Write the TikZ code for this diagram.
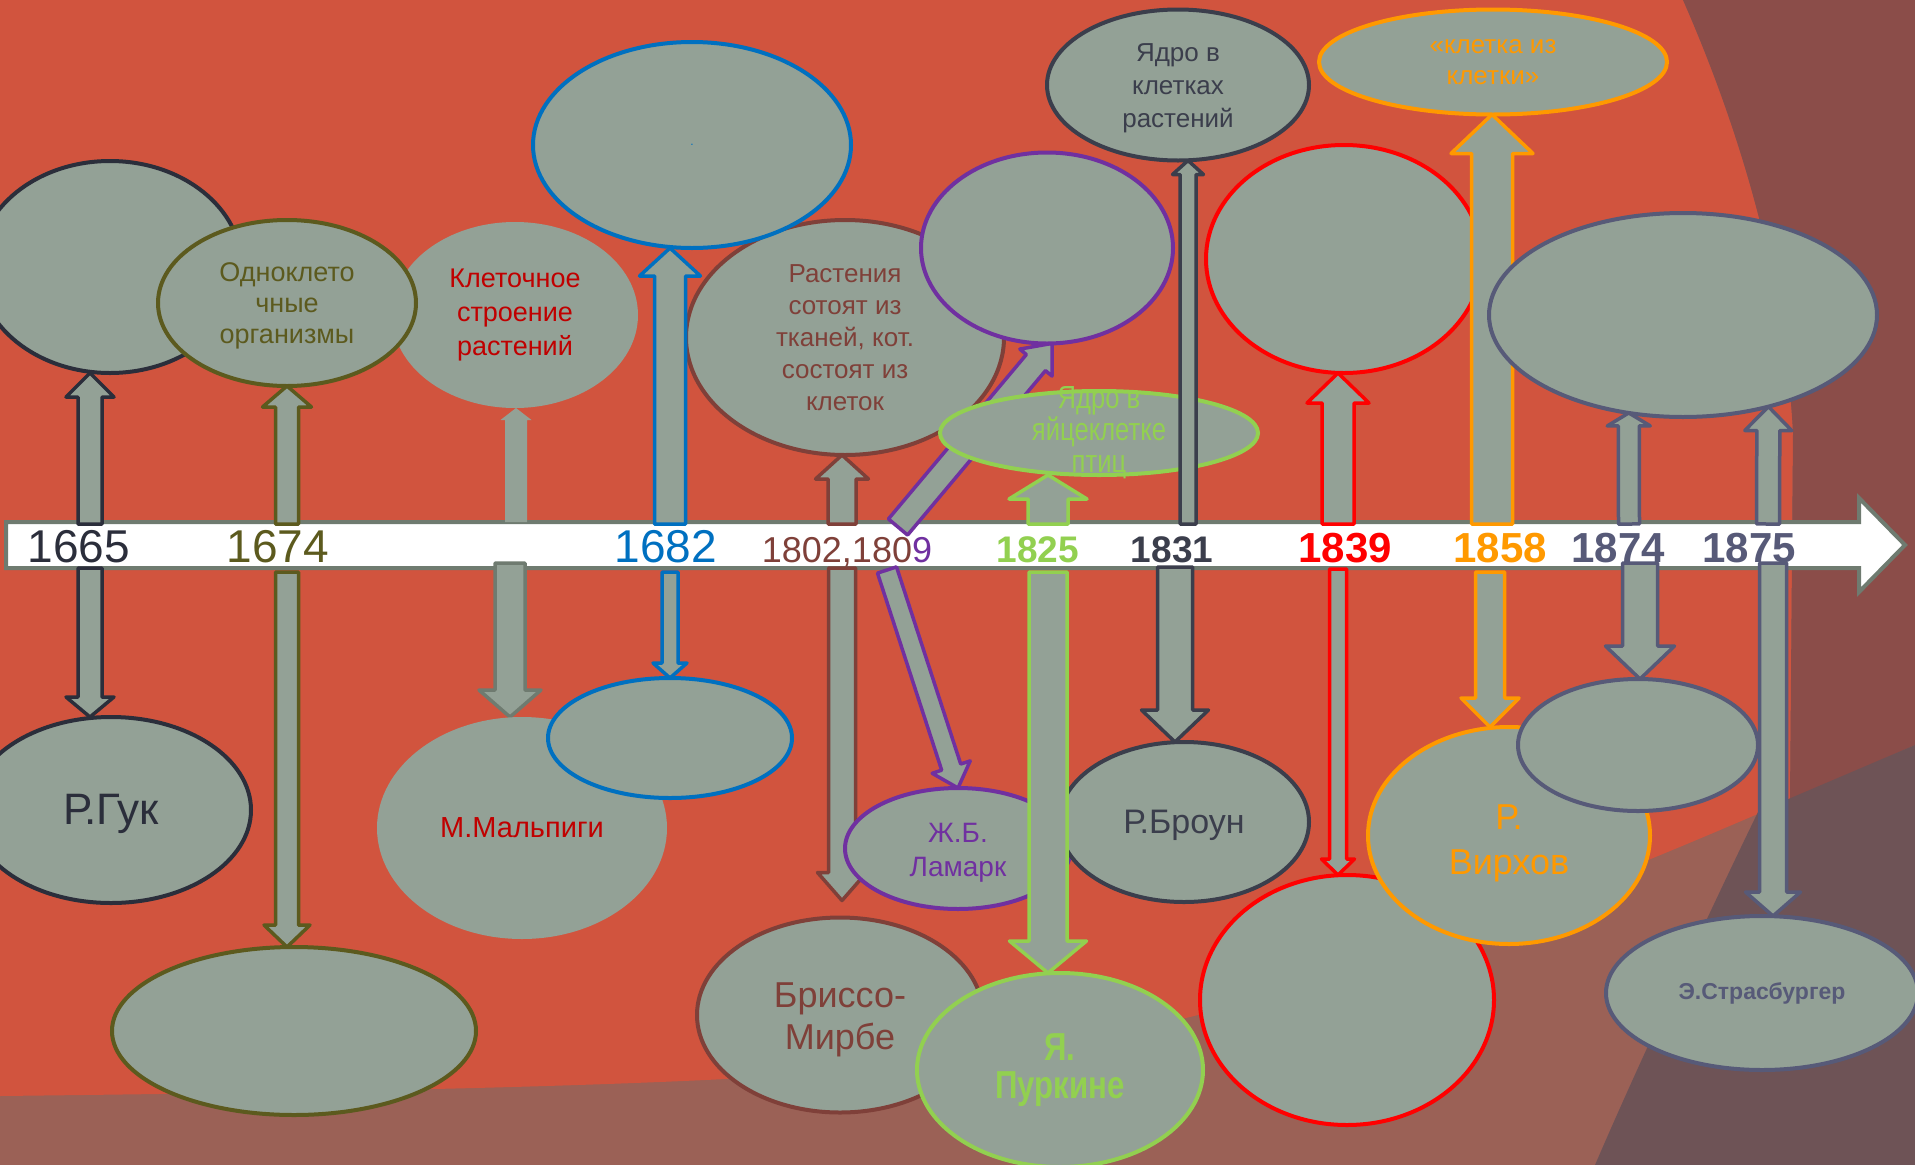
\documentclass[tikz,border=0pt]{standalone}
\usepackage{fontspec}
\setmainfont{Liberation Sans}
\newfontfamily\narrowsf{Liberation Sans}[FakeStretch=0.8]
\usetikzlibrary{shapes, calc}

\pgfdeclarelayer{bg}
\pgfdeclarelayer{arr}
\pgfdeclarelayer{top}
\pgfsetlayers{bg,arr,main,top}

\definecolor{bgred}{HTML}{D1543E}
\definecolor{bgbrown}{HTML}{8B4D49}
\definecolor{bgmauve}{HTML}{9B6156}
\definecolor{bgdark}{HTML}{6E5356}
\definecolor{cellgray}{HTML}{93A196}
\definecolor{tlgray}{HTML}{6F7B70}
\definecolor{dk}{HTML}{2B2E3B}
\definecolor{dkb}{HTML}{3B3E4C}
\definecolor{olv}{HTML}{5C5A1E}
\definecolor{blu}{HTML}{0070C0}
\definecolor{brn}{HTML}{7F4039}
\definecolor{prp}{HTML}{7030A0}
\definecolor{grn}{HTML}{92D050}
\definecolor{rd}{HTML}{FF0000}
\definecolor{drd}{HTML}{C00000}
\definecolor{orn}{HTML}{FF9900}
\definecolor{slt}{HTML}{575A78}

% block arrow: style, from, to, shaft width, head width, head length
\newcommand{\barrow}[6]{%
  \draw[#1] let \p1=#2, \p2=#3,
    \n1={veclen(\x2-\x1,\y2-\y1)},
    \n2={(\x2-\x1)/\n1}, \n3={(\y2-\y1)/\n1},
    \n4={\n1-#6}
  in ({\x1+\n3*#4/2},{\y1-\n2*#4/2})
  -- ({\x1+\n2*\n4+\n3*#4/2},{\y1+\n3*\n4-\n2*#4/2})
  -- ({\x1+\n2*\n4+\n3*#5/2},{\y1+\n3*\n4-\n2*#5/2})
  -- (\x2,\y2)
  -- ({\x1+\n2*\n4-\n3*#5/2},{\y1+\n3*\n4+\n2*#5/2})
  -- ({\x1+\n2*\n4-\n3*#4/2},{\y1+\n3*\n4+\n2*#4/2})
  -- ({\x1-\n3*#4/2},{\y1+\n2*#4/2}) -- cycle;}

\begin{document}
\begin{tikzpicture}[x=1pt, y=-1pt,
  ell/.style={ellipse, fill=cellgray, draw=#1, line width=4pt, inner sep=0pt, outer sep=0pt, align=center},
  blk/.style={fill=cellgray, draw=#1, line width=3.5pt, line join=round},
  yr/.style={anchor=base, font=\fontsize{#1}{#1}\selectfont},
  byr/.style={anchor=base, font=\fontsize{#1}{#1}\selectfont\bfseries}]
\useasboundingbox (0,0) rectangle (1915,1165);

\coordinate (u1665) at (90,524);
\coordinate (u1674) at (287,524);
\coordinate (uKlet) at (516,522);
\coordinate (u1682) at (670,524);
\coordinate (u1802) at (842,524);
\coordinate (u1809) at (898,527);
\coordinate (u1825) at (1048,524);
\coordinate (u1831) at (1188,524);
\coordinate (u1839) at (1338,524);
\coordinate (u1858) at (1492,524);
\coordinate (u1874) at (1629,524);
\coordinate (u1875) at (1768,524);
\coordinate (d1665) at (90,568);
\coordinate (d1674) at (287,572);
\coordinate (dMalp) at (510,563);
\coordinate (d1682) at (670,572);
\coordinate (d1802) at (842,568);
\coordinate (d1809) at (887,570);
\coordinate (d1825) at (1048,572);
\coordinate (d1831) at (1175,567);
\coordinate (d1839) at (1338,569);
\coordinate (d1858) at (1490,572);
\coordinate (d1874) at (1640,563);
\coordinate (d1875) at (1773,563);

\begin{pgfonlayer}{bg}
\fill[bgmauve] (0,0) rectangle (1915,1165);
\fill[bgred] (0,0) -- (1683,0) .. controls (1740,130) and (1785,280) .. (1793,433)
  -- (1790,800) .. controls (1560,900) and (1350,980) .. (1169,1022)
  .. controls (1000,1075) and (700,1088) .. (0,1096) -- cycle;
\fill[bgbrown] (1683,0) -- (1915,0) -- (1915,745) -- (1790,800) -- (1793,433)
  .. controls (1785,280) and (1740,130) .. (1683,0) -- cycle;
\fill[bgdark] (1758,812) -- (1915,745) -- (1915,1165) -- (1595,1165)
  .. controls (1640,1060) and (1720,890) .. (1758,812) -- cycle;
\draw[fill=white, draw=tlgray, line width=4pt] (6,522) -- (1859,522) -- (1859,498) -- (1905,545)
  -- (1859,592) -- (1859,568) -- (6,568) -- cycle;
\node (y1665)[yr=46, text=dk] at (79,562) {1665};
\node (y1674)[yr=46, text=olv] at (278,562) {1674};
\node (y1682)[yr=46, text=blu] at (666,562) {1682};
\node (y1802)[yr=36, text=brn] at (847,562) {1802,180\textcolor{prp}{9}};
\node (y1825)[byr=37, text=grn] at (1038,562) {1825};
\node (y1831)[byr=37, text=dkb] at (1172,562) {1831};
\node (y1839)[byr=42, text=rd] at (1345,562) {1839};
\node (y1858)[byr=42, text=orn] at (1500,562) {1858};
\node (y1874)[byr=42, text=slt] at (1618,562) {1874};
\node (y1875)[byr=42, text=slt] at (1749,562) {1875};
\end{pgfonlayer}

\node (hookTop)[ell=dk, minimum width=264, minimum height=212] at (110,267) {};
\node (kletStr)[ell=none, minimum width=246, minimum height=186, text=drd, font=\fontsize{27}{34}\selectfont] at (515,315) {Клеточное\\строение\\растений};
\node (odno)[ell=olv, minimum width=258, minimum height=166, text=olv, font=\fontsize{27}{31}\selectfont] at (287,303) {\rule{0pt}{25pt}Одноклето\\чные\\организмы};
\node (rast)[ell=brn, minimum width=318, minimum height=235, text=brn, font=\fontsize{26}{32}\selectfont] at (845,337.5) {Растения\\сотоят из\\тканей, кот.\\состоят из\\клеток};
\node (blueTop)[ell=blu, minimum width=318, minimum height=206, text=blu, font=\fontsize{12}{12}\selectfont] at (692,145) {.};
\node (purpTop)[ell=prp, minimum width=252, minimum height=191] at (1047,248) {};
\node (yadroEgg)[ell=grn, minimum width=318, minimum height=84] at (1099,433) {};
\node (yadroEggTxt)[text=grn, align=center, font=\narrowsf\fontsize{32}{32}\selectfont] at (yadroEgg) {Ядро в\\яйцеклетке\\птиц};
\node (yadroPl)[ell=dkb, minimum width=262, minimum height=151, text=dkb, font=\fontsize{26}{33}\selectfont] at (1178,85) {\rule{0pt}{25pt}Ядро в\\клетках\\растений};
\node (kletka)[ell=orn, minimum width=348, minimum height=105, text=orn, font=\fontsize{26}{31}\selectfont] at (1493,62) {«клетка из\\клетки»};
\node (redTop)[ell=rd, minimum width=276, minimum height=228] at (1344,259) {};
\barrow{blk=orn}{(u1858)}{(u1858 |- kletka.south)}{41}{82}{39}
\node (slateBig)[ell=slt, minimum width=388, minimum height=204] at (1683,315) {};

\node (hooke)[ell=dk, minimum width=280, minimum height=186, text=dk, font=\fontsize{44}{44}\selectfont] at (111,810) {\rule{0pt}{39pt}Р.Гук};
\node (oliveBot)[ell=olv, minimum width=364, minimum height=168] at (294,1031) {};
\node (malp)[ell=none, minimum width=290, minimum height=222, text=drd, font=\fontsize{29}{29}\selectfont] at (522,828) {М.Мальпиги};
\node (blueBot)[ell=blu, minimum width=244, minimum height=120] at (670,738) {};
\node (brisso)[ell=brn, minimum width=286, minimum height=195, text=brn, font=\fontsize{36}{42}\selectfont] at (840,1015) {\rule{0pt}{35pt}Бриссо-\\Мирбе};
\node (purk)[ell=grn, minimum width=286, minimum height=194, text=grn, font=\narrowsf\bfseries\fontsize{39}{38}\selectfont] at (1060,1070) {Я.\\Пуркине};
\node (lamark)[ell=prp, minimum width=226, minimum height=121, text=prp, font=\fontsize{28}{34}\selectfont] at (958,848.5) {\rule{0pt}{28pt}Ж.Б.\\Ламарк};
\node (broun)[ell=dkb, minimum width=250, minimum height=160, text=dkb, font=\fontsize{34}{34}\selectfont] at (1184,822) {\rule{0pt}{30pt}Р.Броун};
\node (redBot)[ell=rd, minimum width=294, minimum height=250] at (1347,1000) {};
\node (virch)[ell=orn, minimum width=282, minimum height=217, text=orn, font=\fontsize{36}{45}\selectfont] at (1509,835.5) {\rule{0pt}{40pt}Р.\\Вирхов};
\node (slateSm)[ell=slt, minimum width=240, minimum height=132] at (1638,745) {};
\node (strasb)[ell=slt, minimum width=312, minimum height=154, text=slt, font=\bfseries\fontsize{23}{23}\selectfont] at (1762,993) {Э.Страсбургер};

\begin{pgfonlayer}{arr}
\barrow{blk=dk}{(u1665)}{(u1665 |- hookTop.south)}{24}{48}{24}
\barrow{blk=olv}{(u1674)}{(u1674 |- odno.south)}{23}{49}{21}
\barrow{fill=cellgray, draw=none}{(uKlet)}{(uKlet |- kletStr.south)}{22}{31}{12}
\barrow{blk=brn}{(u1802)}{(u1802 |- rast.south)}{28}{53}{24}
\barrow{blk=prp}{(u1809)}{(purpTop.-87)}{25}{42}{25}
\barrow{blk=grn}{(u1825)}{(u1825 |- yadroEgg.south)}{40}{78}{24}
\barrow{blk=rd}{(u1839)}{(u1839 |- redTop.south)}{32}{62}{30}
\barrow{blk=slt}{(u1874)}{(slateBig.-119)}{21}{43}{13}
\barrow{blk=slt}{(u1875)}{(slateBig.-47)}{23}{47}{24}
\barrow{blk=dk}{(d1665)}{(d1665 |- hooke.north)}{24}{48}{20}
\barrow{blk=olv}{(d1674)}{(d1674 |- oliveBot.north)}{23}{46}{22}
\barrow{blk=tlgray}{(dMalp)}{(dMalp |- malp.north)}{30}{62}{27}
\barrow{blk=blu}{(d1682)}{(d1682 |- blueBot.north)}{16}{34}{15}
\barrow{blk=brn}{(d1802)}{($(d1802 |- brisso.north)+(0,-17)$)}{27}{49}{28}
\barrow{blk=prp}{(d1809)}{(lamark.north)}{20}{40}{22}
\barrow{blk=dkb}{(d1831)}{(d1831 |- broun.north)}{35}{67}{32}
\barrow{blk=rd}{(d1839)}{(d1839 |- redBot.north)}{17}{33}{16}
\barrow{blk=orn}{(d1858)}{(d1858 |- virch.north)}{29}{58}{29}
\barrow{blk=slt}{(d1874)}{(d1874 |- slateSm.north)}{35}{69}{33}
\end{pgfonlayer}

\begin{pgfonlayer}{top}
\barrow{blk=blu}{(u1682)}{(u1682 |- blueTop.south)}{31}{61}{28}
\barrow{blk=dkb}{(u1831)}{(u1831 |- yadroPl.south)}{16}{31}{14}
\barrow{blk=grn}{(d1825)}{(d1825 |- purk.north)}{38}{77}{32}
\barrow{blk=slt}{(d1875)}{(d1875 |- strasb.north)}{27}{55}{24}
\end{pgfonlayer}
\end{tikzpicture}
\end{document}
